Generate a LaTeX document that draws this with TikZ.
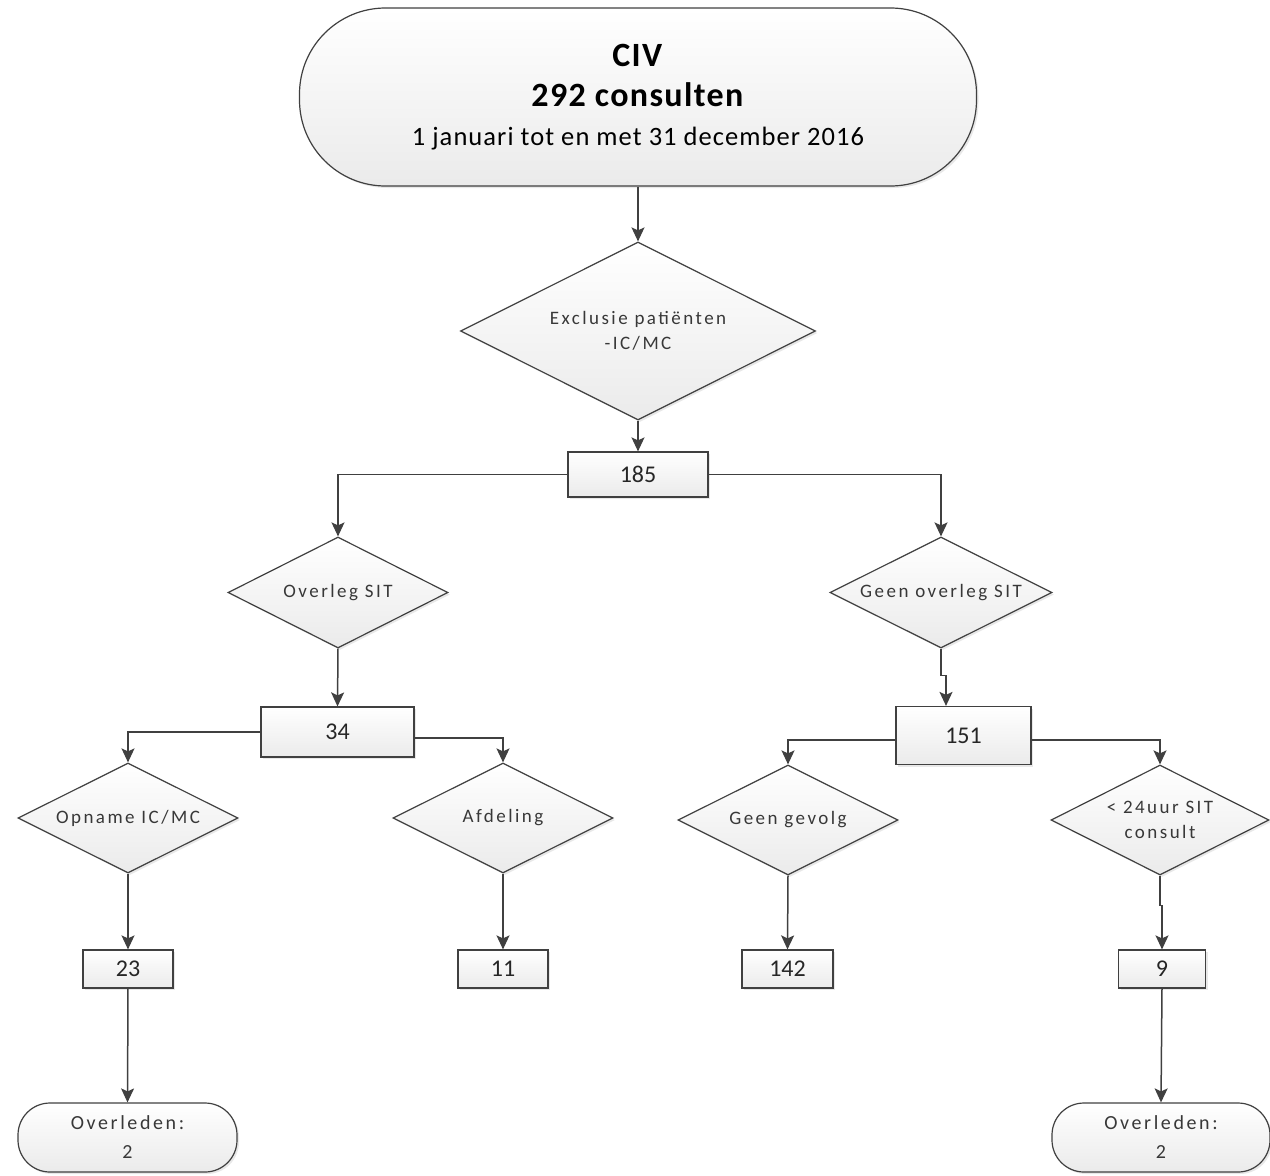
\documentclass[tikz,border=0pt]{standalone}
\usepackage{fontspec}
\setmainfont{Carlito}
\newfontfamily\wijd[LetterSpace=13]{Carlito}
\newfontfamily\breed[LetterSpace=4]{Carlito}
\usetikzlibrary{arrows.meta,shapes.geometric,shadows}

\definecolor{lijn}{HTML}{404040}
\definecolor{tekst}{HTML}{383838}

\tikzset{
  vorm/.style={draw=lijn, line width=1.2pt, top color=white, bottom color=gray!16,
    drop shadow={opacity=0.18, shadow xshift=2pt, shadow yshift=-2pt}},
  termbox/.style={vorm, rectangle, rounded corners=#1, inner sep=0pt, align=center, text=tekst},
  keuze/.style={vorm, diamond, aspect=2, inner sep=0pt, align=center, text=tekst,
    font=\wijd\fontsize{19}{25}\selectfont},
  getal/.style={vorm, rectangle, inner sep=0pt, text=black!85,
    font=\fontsize{24}{25}\selectfont},
  pijl/.style={draw=lijn, line width=1.5pt, -{Stealth[length=14pt, width=13pt, inset=3pt]}}
}

\begin{document}
\begin{tikzpicture}[x=1pt, y=-1pt]
  \useasboundingbox (0,0) rectangle (1270,1176);

  % begin en uitsluiting
  \node[termbox=86pt, minimum width=677pt, minimum height=178pt,
        font=\breed\fontsize{34}{40}\selectfont, text=black] (civ) at (638,97)
        {\textbf{CIV}\\ \textbf{292 consulten}\\[-1pt] {\fontsize{26.5}{40}\selectfont 1 januari tot en met 31 december 2016}};
  \node[keuze, minimum width=355pt, minimum height=178pt] (excl) at (638,331)
        {Exclusie patiënten\\-IC/MC};
  \node[getal, minimum width=140pt, minimum height=45pt] (n185) at (638,474.5) {185};

  % eerste splitsing
  \node[keuze, minimum width=220pt, minimum height=111pt] (overleg) at (338,592.5) {Overleg SIT};
  \node[keuze, minimum width=222pt, minimum height=111pt] (geenov) at (941,592.5) {Geen overleg SIT};
  \node[getal, minimum width=153pt, minimum height=50pt] (n34) at (337.5,732) {34};
  \node[getal, minimum width=135pt, minimum height=58pt] (n151) at (963.5,735.5) {151};

  % tweede splitsing
  \node[keuze, minimum width=220pt, minimum height=110pt] (opname) at (128,818) {Opname IC/MC};
  \node[keuze, minimum width=220pt, minimum height=110pt] (afd) at (503,818) {Afdeling};
  \node[keuze, minimum width=220pt, minimum height=110pt] (gevolg) at (788,820) {Geen gevolg};
  \node[keuze, minimum width=218pt, minimum height=110pt] (uur) at (1160,820) {< 24uur SIT\\consult};

  \node[getal, minimum width=90pt, minimum height=38pt] (n23) at (128,969) {23};
  \node[getal, minimum width=90pt, minimum height=38pt] (n11) at (503,969) {11};
  \node[getal, minimum width=91pt, minimum height=38pt] (n142) at (787.5,969) {142};
  \node[getal, minimum width=87pt, minimum height=38pt] (n9) at (1162,969) {9};

  % uitkomst
  \node[termbox=32pt, minimum width=219pt, minimum height=69pt,
        font=\wijd\fontsize{20}{29}\selectfont] (dood1) at (127.5,1137.5) {Overleden:\\2};
  \node[termbox=32pt, minimum width=218pt, minimum height=69pt,
        font=\wijd\fontsize{20}{29}\selectfont] (dood2) at (1161,1137.5) {Overleden:\\2};

  % verbindingen
  \draw[pijl] (civ.south) -- (excl.north);
  \draw[pijl] (excl.south) -- (n185.north);
  \draw[pijl] (n185.west) -| (overleg.north);
  \draw[pijl] (n185.east) -| (geenov.north);
  \draw[pijl] (overleg.south) -- (n34.north);
  \draw[pijl] (geenov.south) -- ++(0,27) -| ([xshift=-17.5pt]n151.north);
  \draw[pijl] (n34.west) -| (opname.north);
  \draw[pijl] ([yshift=-6pt]n34.east) -| (afd.north);
  \draw[pijl] ([yshift=-4.5pt]n151.west) -| (gevolg.north);
  \draw[pijl] ([yshift=-4.5pt]n151.east) -| (uur.north);
  \draw[pijl] (opname.south) -- (n23.north);
  \draw[pijl] (afd.south) -- (n11.north);
  \draw[pijl] (gevolg.south) -- (n142.north);
  \draw[pijl] (uur.south) -- ++(0,30) -| (n9.north);
  \draw[pijl] (n23.south) -- (dood1.north);
  \draw[pijl] (n9.south) -- (dood2.north);
\end{tikzpicture}
\end{document}
